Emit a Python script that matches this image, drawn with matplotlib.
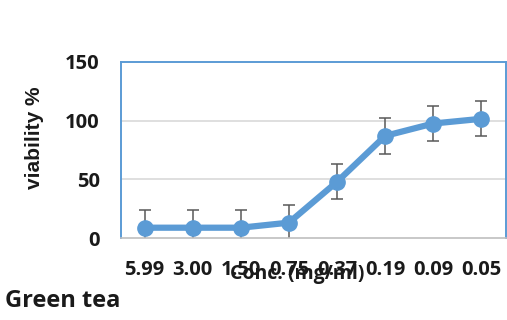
import matplotlib
matplotlib.use("Agg")
import matplotlib.pyplot as plt

categories = ["5.99", "3.00", "1.50", "0.75", "0.37", "0.19", "0.09", "0.05"]
viability = [9.0, 9.0, 9.0, 13.3, 48.0, 87.0, 97.5, 101.5]
errors = [15, 15, 15, 15, 15, 15, 15, 15]
yticks = [0, 50, 100, 150]

W, H = 507, 320
fig = plt.figure(figsize=(W / 100, H / 100), dpi=100)
ax = fig.add_axes([120.5 / W, 1 - 238.3 / H, (505.5 - 120.5) / W, (238.3 - 61.7) / H])

x = list(range(len(categories)))
blue = "#5B9BD5"
ax.errorbar(x, viability, yerr=errors, fmt="none", ecolor="#595959",
            elinewidth=1.1, capsize=4, capthick=1.1, zorder=2)
ax.plot(x, viability, color=blue, linewidth=4.5, marker="o", markersize=11,
        zorder=3)

ax.set_xlim(-0.5, len(categories) - 0.5)
ax.set_ylim(0, 150)
ax.set_yticks(yticks)
ax.set_yticklabels([str(v) for v in yticks])
ax.set_xticks(x)
ax.set_xticklabels(categories)
for g in [50, 100]:
    ax.axhline(g, color="#D9D9D9", linewidth=1.2, zorder=1)

for side in ["left", "top", "right"]:
    ax.spines[side].set_color(blue)
    ax.spines[side].set_linewidth(1.4)
ax.spines["bottom"].set_color("#BFBFBF")
ax.spines["bottom"].set_linewidth(1.2)

ax.tick_params(axis="both", length=0)
ax.tick_params(axis="y", pad=15)
ax.tick_params(axis="x", pad=15.5)
for lab in ax.get_xticklabels() + ax.get_yticklabels():
    lab.set_fontfamily("Open Sans")
    lab.set_fontweight("bold")
    lab.set_fontsize(14.5)
    lab.set_color("#1a1a1a")

fig.text(296.7 / W, 1 - 274 / H, "Conc. (mg/ml)", ha="center", va="center",
         family="Open Sans", weight="bold", size=14, color="#1a1a1a")
fig.text(34 / W, 1 - 138 / H, "viability %", ha="center", va="center",
         rotation=90, family="Liberation Sans", weight="bold", size=15,
         color="#1a1a1a")
fig.text(5 / W, 1 - 306.7 / H, "Green tea", ha="left", va="baseline",
         family="Open Sans", weight="bold", size=17, color="#1a1a1a")

fig.savefig("out.png", dpi=100)
